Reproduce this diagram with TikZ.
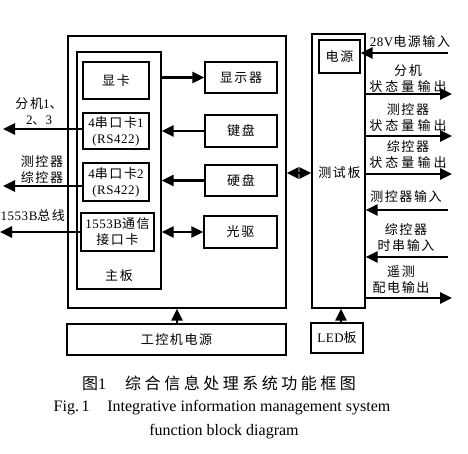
\documentclass[tikz,border=0pt]{standalone}
\usepackage{fontspec}
\setmainfont{Liberation Serif}
\newfontfamily\cjk[LetterSpace=12]{Noto Sans CJK SC}
\newfontfamily\cjkw[LetterSpace=24]{Noto Sans CJK SC}
\newfontfamily\capcjk[LetterSpace=22]{Noto Sans CJK SC}
\newfontfamily\latsp[LetterSpace=4]{Liberation Serif}
\usetikzlibrary{arrows.meta}
\newcommand\lat[1]{{\latsp #1}}
\begin{document}
\begin{tikzpicture}[x=1pt,y=-1pt,
  box/.style={draw, line width=1.3pt, inner sep=0pt, align=center,
    font=\fontsize{13}{16}\selectfont\cjk},
  bigbox/.style={draw, line width=1.3pt, inner sep=0pt},
  lbl/.style={inner sep=0pt, align=center, font=\fontsize{13}{16}\selectfont\cjk},
  arr/.style={line width=2.6pt, -{Triangle[length=12pt,width=11pt]}},
  darr/.style={line width=2.6pt, {Triangle[length=12pt,width=11pt]}-{Triangle[length=12pt,width=11pt]}},
  captext/.style={inner sep=0pt, font=\fontsize{16}{18}\selectfont}
]
\useasboundingbox (0,0) rectangle (468,454);

% industrial computer
\node[bigbox, minimum width=218pt, minimum height=272pt] (ipc) at (177,172) {};
\node[bigbox, minimum width=84pt, minimum height=237pt] (mb) at (119,170.5) {};
\node[lbl] (mbl) at (119,276) {主板};
\node[box, minimum width=66pt, minimum height=37pt] (xk) at (116,80.5) {显卡};
\node[box, minimum width=66pt, minimum height=36pt] (c1) at (116,131) {\lat{4}串口卡\lat{1}\\\lat{(RS422)}};
\node[box, minimum width=66pt, minimum height=38pt] (c2) at (116,182) {\lat{4}串口卡\lat{2}\\\lat{(RS422)}};
\node[box, minimum width=73pt, minimum height=38pt] (c3) at (117.5,232) {\lat{1553B}通信\\接口卡};

\node[box, minimum width=72pt, minimum height=31pt] (disp) at (241,77.5) {显示器};
\node[box, minimum width=72pt, minimum height=32pt] (kb) at (241,131) {键盘};
\node[box, minimum width=72pt, minimum height=31pt] (hd) at (241,180.5) {硬盘};
\node[box, minimum width=73pt, minimum height=32pt] (cd) at (240.5,232) {光驱};

\node[box, minimum width=219pt, minimum height=31pt] (psu) at (176.5,339.5) {工控机电源};

% test board
\node[bigbox, minimum width=53pt, minimum height=274pt] (tb) at (338.5,171) {};
\node[lbl] (tbl) at (339.5,173) {测试板};
\node[box, minimum width=41pt, minimum height=33pt] (pw) at (339.5,56.5) {电源};
\node[box, minimum width=52pt, minimum height=30pt] (led) at (337,338) {\lat{LED}板};

% internal connections
\draw[arr] (mb.east |- disp.west) -- (disp.west);
\draw[arr] (kb.west) -- (kb.west -| mb.east);
\draw[arr] (hd.west) -- (hd.west -| mb.east);
\draw[darr] (cd.west -| mb.east) -- (cd.west);
\draw[arr] (psu.north -| ipc.south) -- (ipc.south);
\draw[darr] (ipc.east |- 0,173) -- (tb.west |- 0,173);
\draw[arr] (led.north -| 341,0) -- (tb.south -| 341,0);

% left outputs
\coordinate (o1) at (3,129);
\coordinate (o2) at (3,186);
\coordinate (o3) at (0,232);
\draw[arr] (c1.west |- o1) -- (o1);
\draw[arr] (c2.west |- o2) -- (o2);
\draw[arr] (c3.west) -- (o3);
\node[lbl] (l1) at (39,111.5) {分机\lat{1}、\\\lat{2}、\lat{3}};
\node[lbl] (l2) at (42,169.5) {测控器\\综控器};
\node[lbl, anchor=west] (l3) at (0.5,216) {\lat{1553B}总线};

% right side
\coordinate (r0) at (448,53);
\coordinate (r1) at (452,94);
\coordinate (r2) at (452,136);
\coordinate (r3) at (452,174);
\coordinate (r4) at (448,210);
\coordinate (r5) at (448,257);
\coordinate (r6) at (452,298);
\draw[arr] (r0) -- (r0 -| pw.east);
\draw[arr] (tb.east |- r1) -- (r1);
\draw[arr] (tb.east |- r2) -- (r2);
\draw[arr] (tb.east |- r3) -- (r3);
\draw[arr] (r4) -- (r4 -| tb.east);
\draw[arr] (r5) -- (r5 -| tb.east);
\draw[arr] (tb.east |- r6) -- (r6);
\node[lbl] (t0) at (410,42) {\lat{28V}电源输入};
\node[lbl] (t1) at (408,78.5) {分机\\{\cjkw 状态量输出}};
\node[lbl] (t2) at (408,117.5) {测控器\\{\cjkw 状态量输出}};
\node[lbl] (t3) at (408,154.5) {综控器\\{\cjkw 状态量输出}};
\node[lbl] (t4) at (406,197) {测控器输入};
\node[lbl] (t5) at (406,238) {综控器\\时串输入};
\node[lbl] (t6) at (401,280) {遥测\\配电输出};

% caption
\node[captext] (cap1) at (219,383) {{\capcjk 图}1\hspace{1.2em}{\capcjk 综合信息处理系统功能框图}};
\node[captext] (cap2) at (222,408) {Fig.\,1\hspace{1.1em}Integrative information management system};
\node[captext] (cap3) at (224,432) {function block diagram};
\end{tikzpicture}
\end{document}
